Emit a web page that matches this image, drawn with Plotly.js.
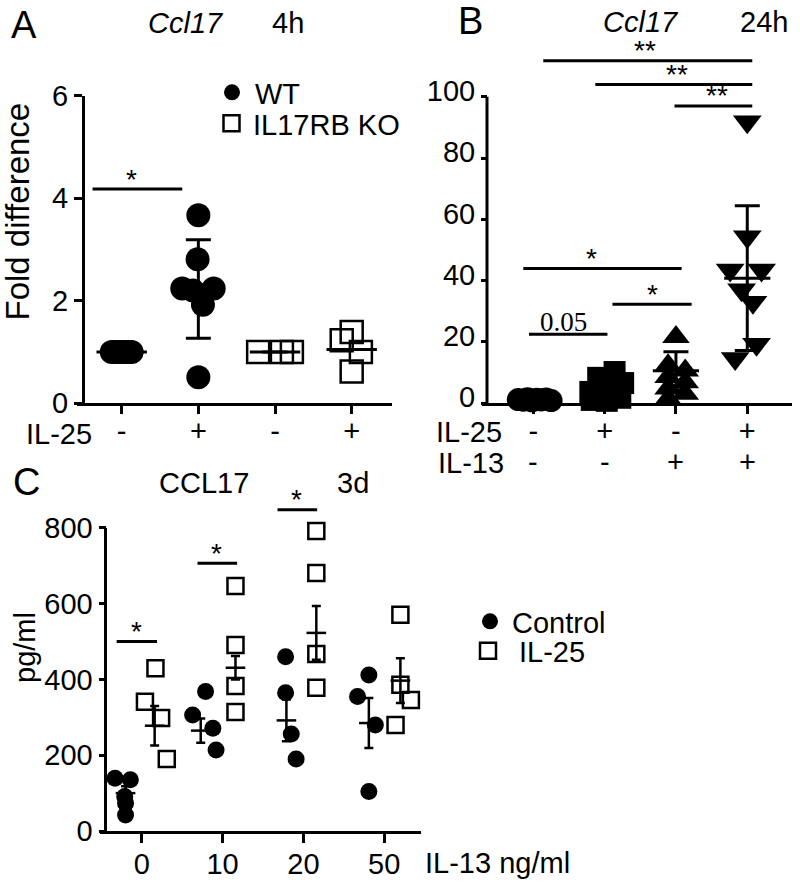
<!DOCTYPE html>
<html><head><meta charset="utf-8">
<script src="https://cdn.plot.ly/plotly-3.0.1.min.js"></script>
<style>html,body{margin:0;padding:0;background:#fff}#chart{width:800px;height:883px}</style>
</head><body><div id="chart"></div>
<script>
// ================= DATA =================
// Panel A  (Ccl17, 4h, fold difference)
const il25SignsA = ['-', '+', '-', '+'];
const wtMinusA   = [1.0, 1.0, 1.0, 1.0, 1.0, 1.0, 1.0];
const wtPlusA    = [3.67, 2.81, 2.24, 2.24, 2.20, 1.92, 0.51];
const koMinusA   = [1.0, 1.0, 1.0];
const koPlusA    = [1.39, 1.23, 1.00, 0.62];
const meanA      = [1.0, 2.23, 1.0, 1.05];
const sdA        = [0, 0.96, 0, 0];
// Panel B  (Ccl17, 24h)
const il25SignsB = ['-', '+', '-', '+'];
const il13SignsB = ['-', '-', '+', '+'];
const bNone      = [1.2, 1.0, 1.5, 0.8, 1.3, 1.1, 1.4, 0.9];
const bIL25      = [10.2, 8.3, 6.6, 3.7, 5.0, 1.1, 1.8, 0.8, 2.7];
const bIL13      = [21.6, 12.4, 8.6, 4.8, 1.5, 10.7, 6.9, 3.1];
const bBoth      = [91.8, 54.3, 43.5, 43.5, 37.0, 33.0, 19.3, 14.6];
const meanB      = [1.2, 4.5, 10.6, 40.8];
const errB       = [0.3, 3.5, 6.2, 23.6];
// Panel C  (CCL17, 3d, pg/ml)
const dosesC     = ['0', '10', '20', '50'];
const ctrlC      = [[139, 135, 91, 73, 42], [368, 306, 271, 214], [460, 365, 256, 190], [355, 412, 280, 104]];
const il25C      = [[430, 341, 298, 190], [647, 491, 383, 314], [792, 681, 467, 378], [571, 386, 346, 280]];
const ctrlMeanC  = [100, 265, 292, 285];
const ctrlErrC   = [18, 32, 55, 66];
const il25MeanC  = [278, 431, 523, 397];
const il25ErrC   = [52, 31, 71, 59];

// ================= point placement (horizontal scatter within a group) =================
const wtMinusJitA = [-0.13, -0.09, -0.04, 0, 0.04, 0.09, 0.13];
const wtPlusJitA  = [0, -0.01, -0.21, 0.20, -0.07, 0.06, 0];
const koMinusJitA = [-0.22, 0.09, 0.22];
const koPlusJitA  = [0, -0.13, 0.12, 0];
const bNoneJit = [-0.21, -0.14, -0.08, -0.02, 0.05, 0.11, 0.18, 0.25];
const bIL25Jit = [0.14, -0.09, 0.26, -0.2, 0.03, -0.18, 0.22, 0.03, 0.18];
const bIL13Jit = [0, -0.11, -0.11, -0.11, -0.11, 0.13, 0.13, 0.13];
const bBothJit = [0, 0, -0.24, 0.2, -0.08, 0.08, 0.13, -0.17];
const ctrlJitC = [[-0.33, -0.14, -0.21, -0.2, -0.2], [-0.21, -0.37, -0.12, -0.08], [-0.22, -0.22, -0.15, -0.09], [-0.33, -0.19, -0.11, -0.19]];
const il25JitC = [[0.17, 0.04, 0.24, 0.31], [0.16, 0.16, 0.16, 0.16], [0.16, 0.16, 0.16, 0.16], [0.2, 0.2, 0.33, 0.14]];
const ctrlMeanJitC = [-0.2, -0.27, -0.21, -0.19];
const il25MeanJitC = [0.16, 0.16, 0.16, 0.2];

// significance brackets: [x0, x1, y, label x, label]
const sigA = [[-0.38, 0.79, 4.18, 0.13, '*']];
const sigB = [[0.14, 3.07, 111.7, 1.57, '**'], [0.87, 3.07, 104.0, 2.01, '**'], [1.98, 3.07, 97.0, 2.58, '**'],
              [-0.14, 2.08, 44.0, 0.82, '*'], [1.11, 2.22, 32.3, 1.67, '*'], [-0.06, 1.04, 22.5, 0.42, '0.05']];
const sigC = [[-0.31, 0.19, 500, -0.07, '*'], [0.69, 1.18, 707, 0.92, '*'], [1.68, 2.17, 848, 1.92, '*']];

// ================= helpers =================
const W = 800, H = 883;
const FONT = 'Arial, "Liberation Sans", Helvetica, sans-serif';
const SERIF = '"Times New Roman", "Liberation Serif", serif';
const K = '#000';
const TICK = 29;
function place(groups, jits, base) {
  const x = [], y = [];
  groups.forEach((vals, k) => vals.forEach((v, i) => { x.push(base + k + jits[k][i]); y.push(v); }));
  return {x, y};
}
function txt(px, py, text, size, o) {
  return Object.assign({xref: 'paper', yref: 'paper', x: px / W, y: 1 - py / H, text, showarrow: false,
    font: {family: FONT, size, color: K}, xanchor: 'center', yanchor: 'middle'}, o || {});
}
function meanTrace(xs, ys, errs, xa, ya, size, lw, capw) {
  return {x: xs, y: ys, xaxis: xa, yaxis: ya, type: 'scatter', mode: 'markers', showlegend: false, cliponaxis: false,
    marker: {symbol: 'line-ew', size, color: K, line: {color: K, width: lw}},
    error_y: {type: 'data', array: errs, visible: true, color: K, thickness: lw, width: capw}};
}
function pts(p, xa, ya, marker, extra) {
  return Object.assign({x: p.x, y: p.y, xaxis: xa, yaxis: ya, type: 'scatter', mode: 'markers',
    cliponaxis: false, showlegend: false, marker}, extra || {});
}

// ================= traces =================
const traces = [];
// A
const pWT = place([wtMinusA, wtPlusA], [wtMinusJitA, wtPlusJitA], 0);
const pKO = place([koMinusA, koPlusA], [koMinusJitA, koPlusJitA], 2);
traces.push(pts(pWT, 'x', 'y', {symbol: 'circle', size: 24, color: K}, {name: 'WT', showlegend: true, legend: 'legend'}));
traces.push(pts(pKO, 'x', 'y', {symbol: 'square-open', size: 22, color: K, line: {width: 2.5, color: K}},
  {name: 'IL17RB KO', showlegend: true, legend: 'legend2'}));
traces.push(meanTrace([0, 1, 2, 3], meanA, sdA, 'x', 'y', 36, 3, 12.5));
// B
traces.push(pts(place([bNone], [bNoneJit], 0), 'x2', 'y2', {symbol: 'circle', size: 23, color: K}));
traces.push(pts(place([bIL25], [bIL25Jit], 1), 'x2', 'y2', {symbol: 'square', size: 22, color: K}));
traces.push(pts(place([bIL13], [bIL13Jit], 2), 'x2', 'y2', {symbol: 'triangle-up', size: 24, color: K}));
traces.push(pts(place([bBoth], [bBothJit], 3), 'x2', 'y2', {symbol: 'triangle-down', size: 25, color: K}));
traces.push(meanTrace([0, 1, 2, 3], meanB, errB, 'x2', 'y2', 33, 3, 12.5));
// C
traces.push(pts(place(ctrlC, ctrlJitC, 0), 'x3', 'y3', {symbol: 'circle', size: 17, color: K},
  {name: 'Control', showlegend: true, legend: 'legend3'}));
traces.push(pts(place(il25C, il25JitC, 0), 'x3', 'y3', {symbol: 'square-open', size: 16, color: K, line: {width: 2.5, color: K}},
  {name: 'IL-25', showlegend: true, legend: 'legend4'}));
traces.push(meanTrace([0, 1, 2, 3].map((k, i) => k + ctrlMeanJitC[i]), ctrlMeanC, ctrlErrC, 'x3', 'y3', 14, 2.5, 4.5));
traces.push(meanTrace([0, 1, 2, 3].map((k, i) => k + il25MeanJitC[i]), il25MeanC, il25ErrC, 'x3', 'y3', 14, 2.5, 4.5));

// ================= axes =================
function xax(d0, d1, range, ticktext, ticklen, anchor, extra) {
  return Object.assign({domain: [d0 / W, d1 / W], range, anchor, tickmode: 'array', tickvals: [0, 1, 2, 3], ticktext,
    showline: true, linewidth: 3, linecolor: K, ticks: 'outside', ticklen, tickwidth: 3, tickcolor: K,
    tickfont: {family: FONT, size: TICK, color: K}, showgrid: false, zeroline: false, fixedrange: true}, extra || {});
}
function yax(top, bottom, range, tickvals, posPx, showline, ticklen, extra) {
  return Object.assign({domain: [1 - bottom / H, 1 - top / H], range, anchor: 'free', position: posPx / W,
    tickmode: 'array', tickvals, showline, linewidth: 3, linecolor: K, ticks: 'outside', ticklen, tickwidth: 3,
    tickcolor: K, tickfont: {family: FONT, size: TICK, color: K}, showgrid: false, zeroline: false, fixedrange: true}, extra || {});
}

// ================= shapes & annotations =================
const shapes = [];
const annotations = [];
function addSig(list, xa, ya) {
  list.forEach(s => {
    shapes.push({type: 'line', xref: xa, yref: ya, x0: s[0], x1: s[1], y0: s[2], y1: s[2], line: {color: K, width: 3}});
    const serif = s[4] === '0.05';
    annotations.push({xref: xa, yref: ya, x: s[3], y: s[2], text: s[4], showarrow: false,
      font: {family: serif ? SERIF : FONT, size: serif ? 27 : 28, color: K},
      xanchor: 'center', yanchor: 'middle', yshift: serif ? 12.6 : 10});
  });
}
addSig(sigA, 'x', 'y');
addSig(sigB, 'x2', 'y2');
addSig(sigC, 'x3', 'y3');
// y axis lines of B and C stop at the top tick
shapes.push({type: 'line', xref: 'paper', yref: 'y2', x0: 487 / W, x1: 487 / W, y0: 0, y1: 100, line: {color: K, width: 3}});
shapes.push({type: 'line', xref: 'paper', yref: 'y3', x0: 105.5 / W, x1: 105.5 / W, y0: 0, y1: 800, line: {color: K, width: 3}});

// panel letters, titles, row labels
annotations.push(txt(24, 25, 'A', 38), txt(186, 23, '<i>Ccl17</i>', 29), txt(288, 23, '4h', 29));
annotations.push(txt(470, 21, 'B', 38), txt(641, 22, '<i>Ccl17</i>', 29), txt(764, 22, '24h', 29));
annotations.push(txt(26, 482, 'C', 38), txt(204, 483, 'CCL17', 29), txt(353, 483, '3d', 29));
annotations.push(txt(17.5, 212, 'Fold difference', 33, {textangle: -90}));
annotations.push(txt(25, 648, 'pg/ml', 29, {textangle: -90}));
annotations.push(txt(59, 434, 'IL-25', 29), txt(469, 432, 'IL-25', 29), txt(471, 463, 'IL-13', 29));
annotations.push(txt(497, 863, 'IL-13 ng/ml', 29));
il13SignsB.forEach((s, i) => annotations.push({xref: 'x2', yref: 'paper', x: i, y: 1 - 462 / H, text: s,
  showarrow: false, font: {family: FONT, size: TICK, color: K}, xanchor: 'center', yanchor: 'middle'}));

function leg(px, py, iw) {
  return {x: px / W, y: 1 - py / H, xanchor: 'left', yanchor: 'middle', itemwidth: iw, bgcolor: 'rgba(0,0,0,0)',
    borderwidth: 0, font: {family: FONT, size: 29, color: K}};
}

const layout = {
  width: W, height: H, margin: {l: 0, r: 0, t: 0, b: 0},
  paper_bgcolor: '#fff', plot_bgcolor: 'rgba(0,0,0,0)', font: {family: FONT, color: K},
  showlegend: true,
  legend: leg(209, 92.5, 36), legend2: leg(210, 123.5, 33), legend3: leg(468, 621.5, 34), legend4: leg(457, 651, 52),
  xaxis: xax(77, 392, [-0.583, 3.526], il25SignsA, 8, 'y', {ticklabelstandoff: -8}),
  yaxis: yax(95.7, 403.3, [0, 6], [0, 2, 4, 6], 83, true, 8),
  xaxis2: xax(481.7, 792, [-0.723, 3.627], il25SignsB, 8, 'y2', {ticklabelstandoff: -8}),
  yaxis2: yax(35.4, 403.3, [0, 120], [0, 20, 40, 60, 80, 100], 487, false, 6, {ticklabelshift: -6}),
  xaxis3: xax(100, 421, [-0.516, 3.455], dosesC, 9, 'y3', {ticklabelstandoff: -4}),
  yaxis3: yax(490.1, 831, [0, 900], [0, 200, 400, 600, 800], 105.5, false, 7),
  shapes, annotations
};

Plotly.newPlot('chart', traces, layout, {staticPlot: true, displayModeBar: false});
</script></body></html>
